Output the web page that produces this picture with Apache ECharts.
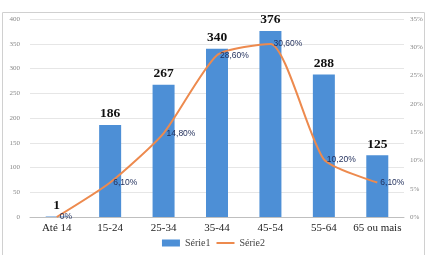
<!DOCTYPE html>
<html><head><meta charset="utf-8">
<script src="https://cdn.jsdelivr.net/npm/echarts@6/dist/echarts.min.js"></script>
<style>html,body{margin:0;padding:0;background:#fff}#c{width:427px;height:255px}</style>
</head><body><div id="c"></div>
<script>
const categories = ['Até 14','15-24','25-34','35-44','45-54','55-64','65 ou mais'];
const serie1 = [1,186,267,340,376,288,125];
const serie2 = [0,6.1,14.8,28.6,30.6,10.2,6.1];
const serie2Labels = ['0%','6,10%','14,80%','28,60%','30,60%','10,20%','6,10%'];
const leftTicks = [0,50,100,150,200,250,300,350,400];
const rightTicks = [0,5,10,15,20,25,30,35];

const chart = echarts.init(document.getElementById('c'));
chart.setOption({
  animation:false,
  textStyle:{fontFamily:'Liberation Serif'},
  graphic:[{type:'rect',shape:{x:2.5,y:12.5,width:422,height:250},style:{fill:'none',stroke:'#d0d0d0',lineWidth:1},silent:true}],
  grid:{left:30,right:23,top:19,bottom:38},
  legend:{bottom:2,left:'center',itemGap:6,itemWidth:18,itemHeight:7,
    textStyle:{fontFamily:'Liberation Serif',fontSize:10,color:'#444'},
    data:[{name:'Série1',icon:'rect'},{name:'Série2',icon:'path://M0,0H20V2.2H0Z',itemStyle:{color:'#ed8a4e'}}]},
  xAxis:{type:'category',data:categories,
    axisLine:{lineStyle:{color:'#bfbfbf'}},axisTick:{show:false},
    axisLabel:{color:'#222',fontSize:11,fontFamily:'Liberation Serif',margin:6,interval:0}},
  yAxis:[
    {type:'value',min:0,max:400,interval:50,
     axisLabel:{color:'#888',fontSize:7,margin:10},
     splitLine:{lineStyle:{color:'#e6e6e6'}},axisLine:{show:false},axisTick:{show:false}},
    {type:'value',min:0,max:35,interval:5,
     axisLabel:{color:'#888',fontSize:7,margin:6,formatter:v=>v+'%'},
     splitLine:{show:false},axisLine:{show:false},axisTick:{show:false}}
  ],
  series:[
    {name:'Série1',type:'bar',data:serie1,barWidth:22,yAxisIndex:0,
     itemStyle:{color:'#4d8fd6'},
     label:{show:true,position:'top',distance:4,color:'#111',fontWeight:'bold',fontSize:13.5,fontFamily:'Liberation Serif'}},
    {name:'Série2',type:'line',data:serie2,yAxisIndex:1,smooth:0.2,symbol:'circle',symbolSize:0.01,showSymbol:true,
     itemStyle:{color:'#ed8a4e'},lineStyle:{color:'#ed8a4e',width:2},
     label:{show:true,position:'right',distance:3,color:'#1f2d5a',fontSize:8.5,fontFamily:'Liberation Sans',
       formatter:p=>serie2Labels[p.dataIndex]}}
  ]
});
</script></body></html>
